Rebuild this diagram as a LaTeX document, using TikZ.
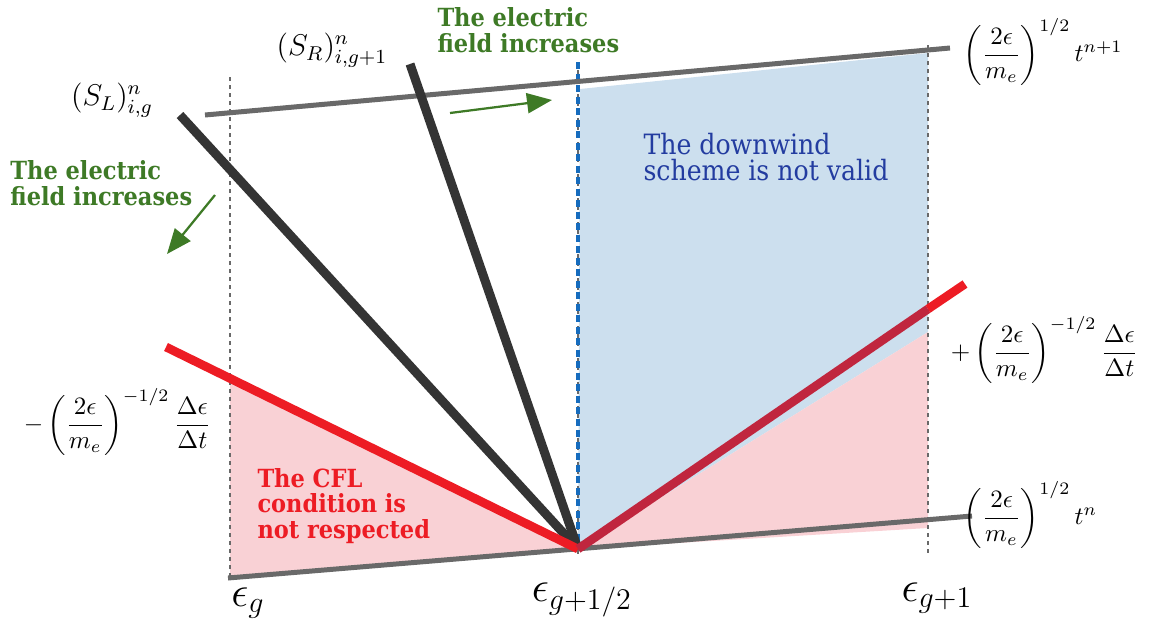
\documentclass[tikz,border=0pt]{standalone}
\usepackage{amsmath,amssymb}
\usepackage{fontspec}
\newfontfamily\slabfont{DejaVu Serif Condensed}
\usetikzlibrary{arrows.meta,calc}
\definecolor{cflred}{RGB}{237,28,36}
\definecolor{cfldark}{RGB}{192,38,62}
\definecolor{cflpink}{RGB}{249,209,213}
\definecolor{downblue}{RGB}{204,223,238}
\definecolor{dashblue}{RGB}{22,108,190}
\definecolor{schemeblue}{RGB}{35,60,160}
\definecolor{fieldgreen}{RGB}{62,122,38}
\definecolor{boundgray}{RGB}{105,105,105}
\definecolor{slopeblack}{RGB}{52,52,52}
\tikzset{
  slab/.style={align=left,anchor=west,inner sep=0pt},
  boldslab/.style={slab,font={\slabfont\bfseries\fontsize{10}{10.3}\selectfont}},
  gridline/.style={boundgray,line width=.6pt,dash pattern=on 1.6pt off 1.6pt},
  bound/.style={boundgray,line width=2pt},
  slope/.style={slopeblack,line width=3.6pt},
  cfl/.style={line width=3.5pt},
  field/.style={fieldgreen,line width=.9pt,-{Triangle[length=10pt,width=8pt]}}
}
\begin{document}
\begin{tikzpicture}[x=.4pt,y=-.4pt,>=Stealth,line cap=butt]
 \useasboundingbox (0,0) rectangle (1154,628);
 % corners of the cell
 \coordinate (V) at (578,549);
 \coordinate (tl) at (205,115);
 \coordinate (tr) at (950,48);
 \coordinate (bl) at (228,578);
 \coordinate (br) at (972,516);
 \coordinate (rl) at (166,347);
 \coordinate (rm) at (928,309);
 \coordinate (rr) at (965,284);
 \coordinate (sl) at (180,115);
 \coordinate (sr) at (410,64);
 % shaded zones
 \fill[cflpink] (230,378) -- (V) -- (230,578) -- cycle;
 \fill[downblue] (580,89) -- (928,53) -- (928,332) -- (V) -- cycle;
 \fill[cflpink] (V) -- (928,332) -- (928,528) -- cycle;
 % energy grid
 \draw[gridline] (230,77) -- (230,578);
 \draw[gridline] (928,45) -- (928,556);
 \draw[gridline] (578,62) -- (578,556);
 \draw[dashblue,line width=1.6pt,dash pattern=on 2.8pt off 1.8pt] (578,62) -- (V);
 \draw[bound] (tl) -- (tr);
 \draw[bound] (bl) -- (br);
 \draw[slope] (sl) -- (V);
 \draw[slope] (sr) -- (V);
 \draw[cfl,cflred] (rl) -- (V);
 \draw[cfl,cfldark] (V) -- (rm);
 \draw[cfl,cflred] (rm) -- (rr);
 % field arrows
 \draw[field] (215,195) -- (167,254);
 \draw[field] (450,113) -- (552,100);
 % labels
 \node[font=\large,inner sep=1pt] (SL) at (112,100) {$(S_L)^n_{i,g}$};
 \node[font=\large,inner sep=1pt] (SR) at (332,50) {$(S_R)^n_{i,g+1}$};
 \node[anchor=west] (tnp) at (955,52)
  {$\left(\dfrac{2\epsilon}{m_e}\right)^{1/2} t^{n+1}$};
 \node[anchor=west] (tn) at (955,515)
  {$\left(\dfrac{2\epsilon}{m_e}\right)^{1/2} t^{n}$};
 \node[anchor=west] (cp) at (942,350)
  {$+\left(\dfrac{2\epsilon}{m_e}\right)^{-1/2}\dfrac{\Delta\epsilon}{\Delta t}$};
 \node[anchor=west] (cm) at (15,422)
  {$-\left(\dfrac{2\epsilon}{m_e}\right)^{-1/2}\dfrac{\Delta\epsilon}{\Delta t}$};
 \node[font=\LARGE] (eg) at (248,603) {$\epsilon_g$};
 \node[font=\LARGE] (eh) at (582,600) {$\epsilon_{g+1/2}$};
 \node[font=\LARGE] (ep) at (937,598) {$\epsilon_{g+1}$};
 \node[boldslab,fieldgreen] (fl) at (10,183) {The electric\\field increases};
 \node[boldslab,fieldgreen] (ft) at (437,30) {The electric\\field increases};
 \node[slab,schemeblue,font={\slabfont\fontsize{11.2}{10.5}\selectfont}] (dw) at (643,157)
  {The downwind\\scheme is not valid};
 \node[boldslab,cflred] (cf) at (257,506)
  {The CFL\\condition is\\not respected};
\end{tikzpicture}
\end{document}
